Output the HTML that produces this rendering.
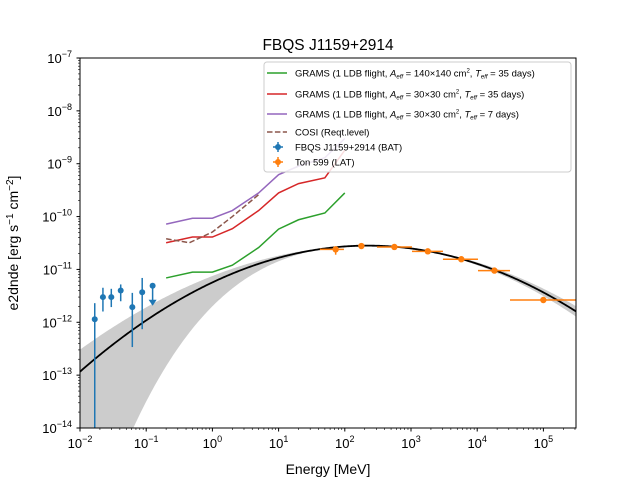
<!DOCTYPE html>
<html><head><meta charset="utf-8"><style>
html,body{margin:0;padding:0;background:#fff;overflow:hidden;width:640px;height:480px}
svg{display:block;font-family:"Liberation Sans","DejaVu Sans",sans-serif}
</style></head><body>
<svg id="chart" width="640" height="480" viewBox="0 0 640 480">
<defs><clipPath id="clip"><rect x="80" y="58" width="496" height="370"/></clipPath></defs>
<rect width="640" height="480" fill="#fff"/>
<text x="328" y="50" font-size="15.5" text-anchor="middle">FBQS J1159+2914</text>
<g id="plot" clip-path="url(#clip)"></g>
<g id="axes"></g>
<text x="328" y="474" font-size="14" text-anchor="middle">Energy [MeV]</text>
<text transform="translate(18,243) rotate(-90)" font-size="14" text-anchor="middle">e2dnde [erg s<tspan baseline-shift="super" font-size="10">−1</tspan> cm<tspan baseline-shift="super" font-size="10">−2</tspan>]</text>
<g id="legend"></g>
</svg>
<script>
const NS="http://www.w3.org/2000/svg";
const xDecades=[-2,-1,0,1,2,3,4,5];
const yDecades=[-7,-8,-9,-10,-11,-12,-13,-14];
const gramsE=[0.2,0.5,1,2,5,10,20,50,100];
const gramsBig=[6.9e-12,8.9e-12,8.9e-12,1.2e-11,2.6e-11,5.8e-11,8.7e-11,1.17e-10,2.8e-10];
const gramsMid35=[3.2e-11,4.1e-11,4.1e-11,5.9e-11,1.3e-10,2.8e-10,4.2e-10,5.4e-10,1.8e-9];
const gramsMid7=[7.2e-11,9.3e-11,9.3e-11,1.3e-10,2.8e-10,6.2e-10,9e-10,1.3e-9,3e-9];
const cosiE=[0.2,0.45,1,2,5];
const cosiV=[3.8e-11,3.2e-11,5.1e-11,1.0e-10,2.6e-10];
const batE=[0.0167,0.0222,0.0297,0.0412,0.0617,0.087,0.125];
const batV=[1.14e-12,3.0e-12,3.0e-12,4.0e-12,1.94e-12,3.7e-12,4.9e-12];
const batHi=[2.3e-12,4.5e-12,4.3e-12,5.2e-12,3.6e-12,6.9e-12,4.9e-12];
const batLo=[1e-14,1.6e-12,1.94e-12,2.5e-12,3.4e-13,7.4e-13,2.1e-12];
const batUL=[false,false,false,false,false,false,true];
const latE=[72.8,178,561,1795,5754,18200,99800];
const latV=[2.4e-11,2.77e-11,2.66e-11,2.2e-11,1.56e-11,9.5e-12,2.64e-12];
const latELo=[42,178,306,1035,3040,10280,31300];
const latEHi=[97,178,1035,3040,10280,31300,310000];
const latVHi=[2.65e-11,2.77e-11,2.66e-11,2.2e-11,1.56e-11,9.5e-12,2.64e-12];
const latVLo=[1.9e-11,2.77e-11,2.66e-11,2.2e-11,1.56e-11,9.5e-12,2.64e-12];
const modelPeakLogE=[2.35];
const modelPeakLogV=[-10.55];
const modelCurv=[0.126];

const X=e=>80+66.2*(Math.log10(e)+2);
const Y=v=>58+52.857*(-7-Math.log10(v));
const plot=document.getElementById('plot'),axes=document.getElementById('axes'),leg=document.getElementById('legend');
function mk(tag,attrs,parent){const el=document.createElementNS(NS,tag);for(const k in attrs)el.setAttribute(k,attrs[k]);parent.appendChild(el);return el;}

const lp=modelPeakLogE[0],vp=modelPeakLogV[0],c=modelCurv[0];
const mlog=L=>vp-c*(L-lp)*(L-lp);
let up=[],lo=[],mid=[];
for(let L=-2;L<=5.5;L+=0.02){
  const d=L-lp;let u,w;
  if(d<0){u=0.022*d*d;w=0.0237*Math.pow(-d,3.45);}else{u=0.01*d*d;w=0.01*d*d;}
  const e=Math.pow(10,L);
  up.push([X(e),Y(Math.pow(10,mlog(L)+u))]);
  lo.push([X(e),Math.min(430,Y(Math.pow(10,mlog(L)-w)))]);
  mid.push([X(e),Y(Math.pow(10,mlog(L)))]);
}
const band=mk('polygon',{points:up.concat(lo.reverse()).map(p=>p.join(',')).join(' '),fill:'#cccccc',stroke:'none'},plot);



function line(E,V,color,name,dash){
  const p=mk('polyline',{points:E.map((e,i)=>X(e)+','+Y(V[i])).join(' '),fill:'none',stroke:color,'stroke-width':1.5},plot);
  if(dash)p.setAttribute('stroke-dasharray',dash);
  
  
}
line(gramsE,gramsBig,'#2ca02c','grams-140x140-35d-line');
line(gramsE,gramsMid35,'#d62728','grams-30x30-35d-line');
line(gramsE,gramsMid7,'#9467bd','grams-30x30-7d-line');
line(cosiE,cosiV,'#8c564b','cosi-line','5.5,2.4');

const mc=mk('polyline',{points:mid.map(p=>p.join(',')).join(' '),fill:'none',stroke:'#000','stroke-width':1.8},plot);



batE.forEach((e,i)=>{
  const g=mk('g',{},plot);
  
  
  const x=X(e),y=Y(batV[i]);
  mk('line',{x1:x-2.5,x2:x+2.5,y1:y,y2:y,stroke:'#1f77b4','stroke-width':1.5},g);
  if(batUL[i]){
    const y2=y+19;
    mk('line',{x1:x,x2:x,y1:y,y2:y2,stroke:'#1f77b4','stroke-width':1.5},g);
    mk('polygon',{points:`${x-4},${y2-5} ${x+4},${y2-5} ${x},${y2+1}`,fill:'#1f77b4'},g);
  }else{
    mk('line',{x1:x,x2:x,y1:Y(batHi[i]),y2:Math.min(430,Y(batLo[i])),stroke:'#1f77b4','stroke-width':1.5},g);
  }
  mk('circle',{cx:x,cy:y,r:3,fill:'#1f77b4'},g);
});
latE.forEach((e,i)=>{
  const g=mk('g',{},plot);
  
  
  const x=X(e),y=Y(latV[i]);
  mk('line',{x1:X(latELo[i]),x2:Math.min(578,X(latEHi[i])),y1:y,y2:y,stroke:'#ff7f0e','stroke-width':1.5},g);
  mk('line',{x1:x,x2:x,y1:Y(latVHi[i]),y2:Y(latVLo[i]),stroke:'#ff7f0e','stroke-width':1.5},g);
  mk('circle',{cx:x,cy:y,r:3.2,fill:'#ff7f0e'},g);
});

const fr=mk('rect',{x:80,y:58,width:496,height:370,fill:'none',stroke:'#000','stroke-width':1},axes);


xDecades.forEach(d=>{
  const x=X(Math.pow(10,d));
  mk('line',{x1:x,x2:x,y1:428,y2:431.5,stroke:'#000'},axes);
  const t=mk('text',{x:x,y:448,'font-size':13,'text-anchor':'middle'},axes);
  
  
  t.innerHTML='10<tspan dy="-6" font-size="9">'+(d<0?'−'+(-d):d)+'</tspan>';
  for(let m=2;m<10;m++){const xm=X(m*Math.pow(10,d));if(xm<576)mk('line',{x1:xm,x2:xm,y1:428,y2:430,stroke:'#000','stroke-width':0.6},axes);}
});
yDecades.forEach(d=>{
  const y=Y(Math.pow(10,d));
  mk('line',{x1:76.5,x2:80,y1:y,y2:y,stroke:'#000'},axes);
  const t=mk('text',{x:72,y:y+5,'font-size':13,'text-anchor':'end'},axes);
  
  
  t.innerHTML='10<tspan dy="-6" font-size="9">−'+(-d)+'</tspan>';
  if(d>-14)for(let m=2;m<10;m++){const ym=Y(m*Math.pow(10,d-1));mk('line',{x1:78,x2:80,y1:ym,y2:ym,stroke:'#000','stroke-width':0.6},axes);}
});

const lb=mk('rect',{x:264,y:62,width:307,height:110,rx:3,fill:'#fff','fill-opacity':0.85,stroke:'#ccc'},leg);


const entries=[
 ['#2ca02c',73,'GRAMS (1 LDB flight, <tspan font-style="italic">A</tspan><tspan font-size="6" dy="2" font-style="italic">eff</tspan><tspan dy="-2"> = 140×140 cm</tspan><tspan font-size="6" dy="-4">2</tspan><tspan dy="4">, </tspan><tspan font-style="italic">T</tspan><tspan font-size="6" dy="2" font-style="italic">eff</tspan><tspan dy="-2"> = 35 days)</tspan>','line'],
 ['#d62728',94,'GRAMS (1 LDB flight, <tspan font-style="italic">A</tspan><tspan font-size="6" dy="2" font-style="italic">eff</tspan><tspan dy="-2"> = 30×30 cm</tspan><tspan font-size="6" dy="-4">2</tspan><tspan dy="4">, </tspan><tspan font-style="italic">T</tspan><tspan font-size="6" dy="2" font-style="italic">eff</tspan><tspan dy="-2"> = 35 days)</tspan>','line'],
 ['#9467bd',114,'GRAMS (1 LDB flight, <tspan font-style="italic">A</tspan><tspan font-size="6" dy="2" font-style="italic">eff</tspan><tspan dy="-2"> = 30×30 cm</tspan><tspan font-size="6" dy="-4">2</tspan><tspan dy="4">, </tspan><tspan font-style="italic">T</tspan><tspan font-size="6" dy="2" font-style="italic">eff</tspan><tspan dy="-2"> = 7 days)</tspan>','line'],
 ['#8c564b',132,'COSI (Reqt.level)','dash'],
 ['#1f77b4',147,'FBQS J1159+2914 (BAT)','pt'],
 ['#ff7f0e',162,'Ton 599 (LAT)','pt']
];
entries.forEach(en=>{
  const g=mk('g',{},leg);
  
  
  const [col,y,txt,kind]=en;
  if(kind==='pt'){
    mk('line',{x1:273,x2:283,y1:y,y2:y,stroke:col,'stroke-width':1.5},g);
    mk('line',{x1:278,x2:278,y1:y-5,y2:y+5,stroke:col,'stroke-width':1.5},g);
    mk('circle',{cx:278,cy:y,r:3,fill:col},g);
  }else{
    const l=mk('line',{x1:267,x2:287,y1:y,y2:y,stroke:col,'stroke-width':1.5},g);
    if(kind==='dash')l.setAttribute('stroke-dasharray','5.5,2.4');
  }
  const t=mk('text',{x:295,y:y+3.5,'font-size':9.5},g);
  t.innerHTML=txt;
});
</script>
</body></html>
